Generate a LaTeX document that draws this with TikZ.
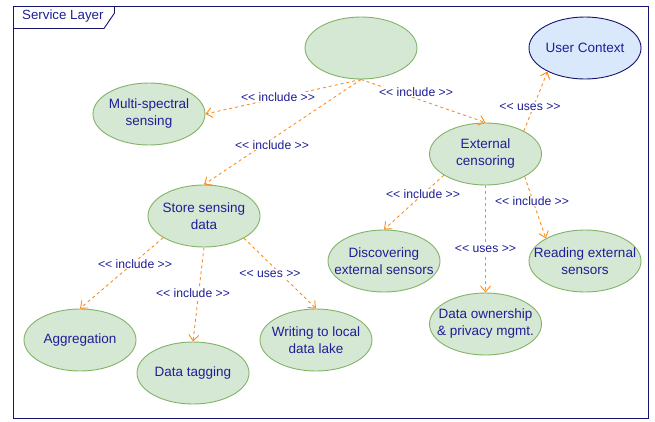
\documentclass[tikz,border=0pt]{standalone}
\usepackage{fontspec}
\setmainfont{Liberation Sans}[Ligatures=TeXOff]
\usetikzlibrary{shapes.geometric,arrows.meta}
\definecolor{txtblue}{RGB}{30,30,150}
\definecolor{navy}{RGB}{20,20,110}
\definecolor{gfill}{RGB}{213,232,212}
\definecolor{gline}{RGB}{130,179,102}
\definecolor{bfill}{RGB}{218,232,252}
\definecolor{arrorange}{RGB}{255,140,26}
\tikzset{
  uc/.style={ellipse, draw=gline, fill=gfill, line width=0.9pt,
    minimum width=112pt, minimum height=62pt, inner sep=0pt},
  ucblue/.style={uc, draw=navy, fill=bfill},
  uctext/.style={align=center, text=txtblue, inner sep=0pt,
    font=\fontsize{13.5}{17}\selectfont},
  rel/.style={draw=arrorange, line width=0.9pt, dash pattern=on 3pt off 3pt,
    -{Straight Barb[length=6pt,width=10pt]}},
  lbl/.style={fill=white, inner sep=1pt, text=txtblue,
    font=\fontsize{12.2}{14}\selectfont}
}
\newcommand{\incl}{<{}< include >{}>}
\newcommand{\uses}{<{}< uses >{}>}
\begin{document}
\begin{tikzpicture}[x=1pt,y=-1pt]
\useasboundingbox (0,0) rectangle (655,421);
% frame
\draw[navy, line width=0.9pt] (13.5,6.5) rectangle (648.5,418.5);
\draw[navy, line width=0.9pt] (13.5,28.5) -- (104,28.5) -- (114.5,13) -- (114.5,6.5);
\node[anchor=west, text=txtblue, inner sep=0pt, font=\fontsize{13.3}{15}\selectfont] (title) at (22,16.5) {Service Layer};

% nodes
\node[uc] (top) at (361,48) {};
\node[ucblue, label={[uctext]center:User Context}] (ucx) at (585,48) {};
\node[uc, label={[uctext]center:Multi-spectral\\sensing}] (ms) at (149,114) {};
\node[uc, label={[uctext]center:External\\censoring}] (ext) at (485.5,154) {};
\node[uc, label={[uctext]center:Store sensing\\data}] (store) at (204,216) {};
\node[uc, label={[uctext]center:Discovering\\external sensors}] (disc) at (384,261) {};
\node[uc, label={[uctext]center:Reading external\\sensors}] (read) at (585,261) {};
\node[uc, label={[uctext]center:Data ownership\\\& privacy mgmt.}] (dom) at (485.5,324) {};
\node[uc, label={[uctext]center:Aggregation}] (agg) at (80,340) {};
\node[uc, label={[uctext]center:Data tagging}] (tag) at (193,373) {};
\node[uc, label={[uctext]center:Writing to local\\data lake}] (wri) at (316,340) {};

% connectors
\draw[rel] (top.south) -- (ms.east);
\draw[rel] (top.south) -- (store.north);
\draw[rel] (top.south) -- (ext.north);
\draw[rel] (ext.31) -- (ucx.212);
\draw[rel] (ext.207) -- (disc.north);
\draw[rel] (ext.south) -- (dom.north);
\draw[rel] (ext.-30) -- (read.150);
\draw[rel] (store.208) -- (agg.north);
\draw[rel] (store.south) -- (tag.north);
\draw[rel] (store.-29) -- (wri.north);

% labels
\node[lbl] (l1) at (278,97) {\incl};
\node[lbl] (l2) at (272,145) {\incl};
\node[lbl] (l3) at (416,92) {\incl};
\node[lbl] (l4) at (530,107) {\uses};
\node[lbl] (l5) at (423,194) {\incl};
\node[lbl] (l6) at (485.5,249) {\uses};
\node[lbl] (l7) at (532,201) {\incl};
\node[lbl] (l8) at (135,264) {\incl};
\node[lbl] (l9) at (193,293) {\incl};
\node[lbl] (l10) at (270,274) {\uses};
\end{tikzpicture}
\end{document}
